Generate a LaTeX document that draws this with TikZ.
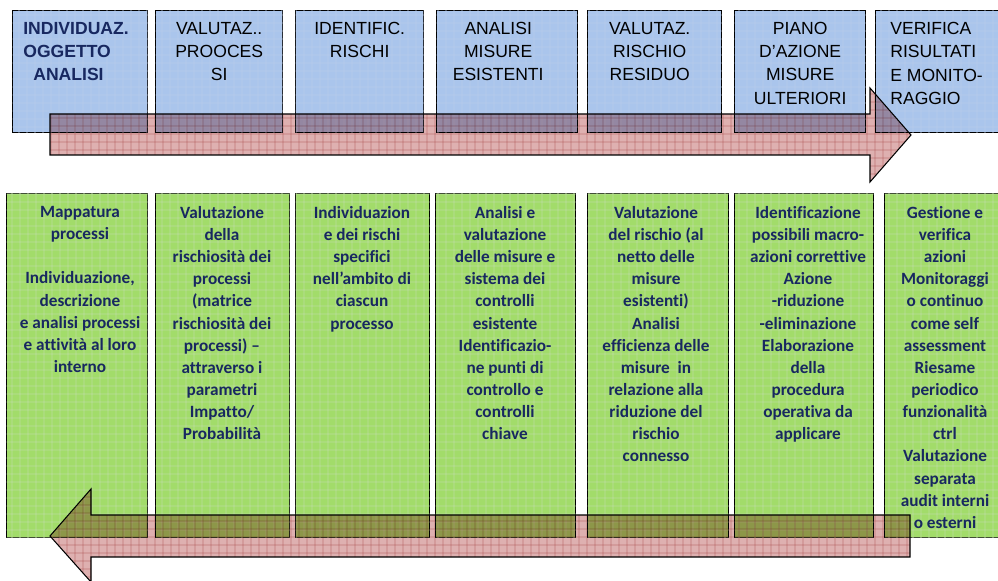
\documentclass[tikz,border=0pt]{standalone}
\usepackage{fontspec}
\setmainfont{Liberation Sans}
\newfontfamily\calibri[Ligatures={NoCommon}]{Carlito}
\usetikzlibrary{positioning,patterns}
\definecolor{boxblue}{RGB}{170,197,236}
\definecolor{gridblue}{RGB}{110,152,216}
\definecolor{boxgreen}{RGB}{162,220,106}
\definecolor{gridgreen}{RGB}{118,188,56}
\definecolor{arrowpink}{RGB}{222,176,176}
\definecolor{gridred}{RGB}{186,92,92}
\definecolor{navytext}{RGB}{24,40,96}

% checkered texture of the original slide
\pgfdeclarepatternformonly{finegrid}{\pgfpointorigin}{\pgfqpoint{4.5pt}{4.5pt}}{\pgfqpoint{4.5pt}{4.5pt}}{%
  \pgfsetlinewidth{0.45pt}%
  \pgfpathmoveto{\pgfqpoint{0pt}{2.25pt}}\pgfpathlineto{\pgfqpoint{4.5pt}{2.25pt}}%
  \pgfpathmoveto{\pgfqpoint{2.25pt}{0pt}}\pgfpathlineto{\pgfqpoint{2.25pt}{4.5pt}}%
  \pgfusepath{stroke}}

\begin{document}
\begin{tikzpicture}[x=0.02cm, y=-0.02cm,
  phase/.style={draw, line width=0.8pt, fill=boxblue, postaction={pattern=finegrid, pattern color=gridblue!50}, minimum height=2.44cm, anchor=north west, inner sep=0pt},
  task/.style={draw, line width=0.8pt, fill=boxgreen, postaction={pattern=finegrid, pattern color=gridgreen!50}, minimum height=6.88cm, anchor=north west, inner sep=0pt},
  phasetxt/.style={font=\fontsize{10}{13.2}\selectfont, align=center, inner sep=0pt, anchor=north},
  tasktxt/.style={font=\calibri\bfseries\fontsize{9.8}{12.6}\selectfont, text=navytext, align=center, inner sep=0pt, anchor=north},
  flow/.style={draw, line width=0.6pt, fill=arrowpink, blend mode=multiply, postaction={pattern=finegrid, pattern color=gridred!50}}]
\useasboundingbox (0,0) rectangle (998,581);

% phases
\node[phase, minimum width=2.70cm] (p1) at (12,10) {};
\node[phase, minimum width=2.54cm] (p2) at (155,10) {};
\node[phase, minimum width=2.56cm] (p3) at (295,10) {};
\node[phase, minimum width=2.82cm] (p4) at (436,10) {};
\node[phase, minimum width=2.68cm] (p5) at (587,10) {};
\node[phase, minimum width=2.62cm] (p6) at (734,10) {};
\node[phase, minimum width=2.80cm] (p7) at (875,10) {};

\node[phasetxt, anchor=north west, align=left, text=navytext, font=\bfseries\fontsize{10}{13.2}\selectfont] (h1) at (23,22) {INDIVIDUAZ.\\OGGETTO\\\hspace{0.2cm}ANALISI};
\node[phasetxt, below=0.24cm of p2.north] (h2) {VALUTAZ..\\PROOCES\\SI};
\node[phasetxt, below=0.24cm of p3.north] (h3) {IDENTIFIC.\\RISCHI};
\node[phasetxt, below=0.24cm of p4.north, xshift=-0.18cm] (h4) {ANALISI\\MISURE\\ESISTENTI};
\node[phasetxt, below=0.24cm of p5.north, xshift=-0.1cm] (h5) {VALUTAZ.\\RISCHIO\\RESIDUO};
\node[phasetxt, below=0.24cm of p6.north] (h6) {PIANO\\D’AZIONE\\MISURE\\ULTERIORI};
\node[phasetxt, anchor=north west, align=left] (h7) at (890,22) {VERIFICA\\RISULTATI\\E MONITO-\\RAGGIO};

\draw[flow] (50,114) -- (870,114) -- (870,88) -- (911,135) -- (870,182) -- (870,155) -- (50,155) -- cycle;

% activities
\node[task, minimum width=2.82cm] (c1) at (6,193) {};
\node[task, minimum width=2.68cm] (c2) at (155,193) {};
\node[task, minimum width=2.68cm] (c3) at (295,193) {};
\node[task, minimum width=2.80cm] (c4) at (435,193) {};
\node[task, minimum width=2.82cm] (c5) at (587,193) {};
\node[task, minimum width=2.78cm] (c6) at (734,193) {};
\node[task, minimum width=2.60cm] (c7) at (884,193) {};

\node[tasktxt] (d1) at (80,206) {Mappatura\\processi\\[12.6pt]Individuazione,\\descrizione\\e analisi processi\\e attività al loro\\interno};
\node[tasktxt] (d2) at (222,206) {Valutazione\\della\\rischiosità dei\\processi\\(matrice\\rischiosità dei\\processi) –\\attraverso i\\parametri\\Impatto/\\Probabilità};
\node[tasktxt] (d3) at (362,206) {Individuazion\\e dei rischi\\specifici\\nell’ambito di\\ciascun\\processo};
\node[tasktxt] (d4) at (505,206) {Analisi e\\valutazione\\delle misure e\\sistema dei\\controlli\\esistente\\Identificazio-\\ne punti di\\controllo e\\controlli\\chiave};
\node[tasktxt] (d5) at (656,206) {Valutazione\\del rischio (al\\netto delle\\misure\\esistenti)\\Analisi\\efficienza delle\\misure\ \ in\\relazione alla\\riduzione del\\rischio\\connesso};
\node[tasktxt] (d6) at (808,206) {Identificazione\\possibili macro-\\azioni correttive\\Azione\\-riduzione\\-eliminazione\\Elaborazione\\della\\procedura\\operativa da\\applicare};
\node[tasktxt] (d7) at (945,206) {Gestione e\\verifica\\azioni\\Monitoraggi\\o continuo\\come self\\assessment\\Riesame\\periodico\\funzionalità\\ctrl\\Valutazione\\separata\\audit interni\\o esterni};

\draw[flow] (910,515) -- (91,515) -- (91,489) -- (50,536) -- (91,582) -- (91,557) -- (910,557) -- cycle;
\end{tikzpicture}
\end{document}
